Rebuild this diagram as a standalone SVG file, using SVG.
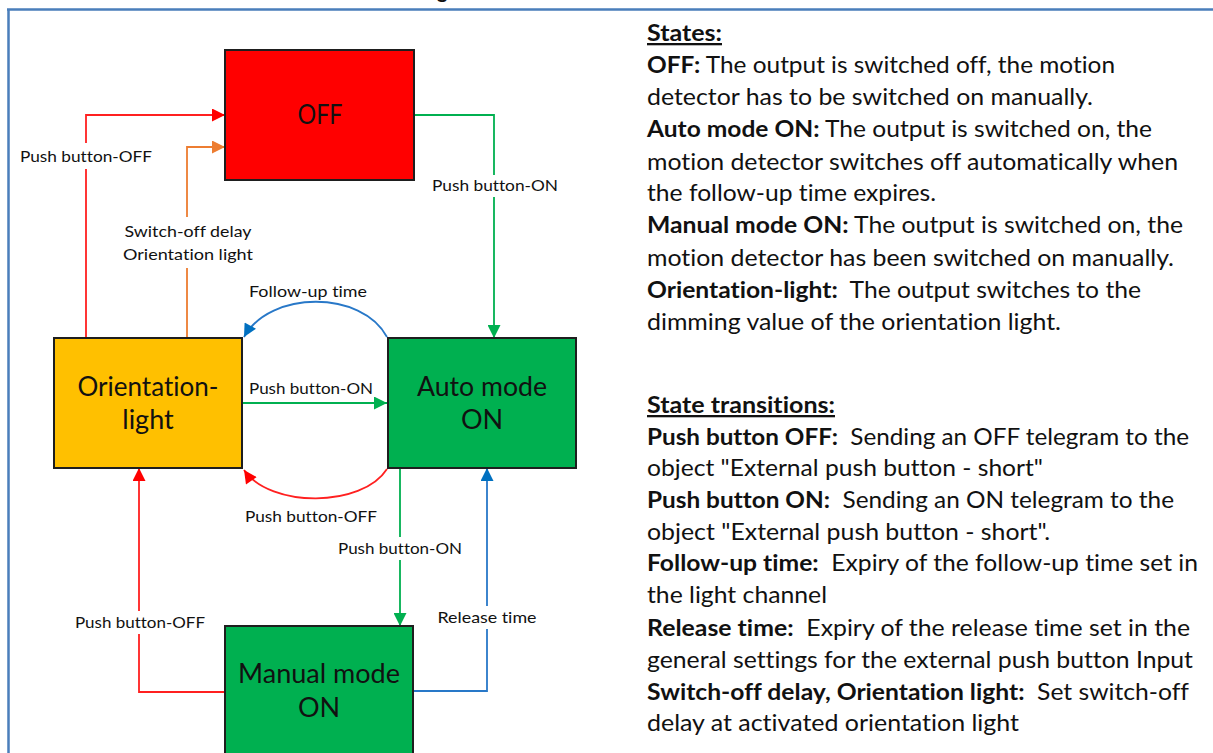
<svg xmlns="http://www.w3.org/2000/svg" width="1213" height="753" viewBox="0 0 1213 753">
<defs>
<style>
text{font-variant-ligatures:none}
.box{stroke:#1e1e1e;stroke-width:2}
.bt{font-family:Lato,"Open Sans","Liberation Sans",sans-serif;font-size:27px;fill:#111;text-anchor:middle}
.lb{font-family:Lato,"Open Sans","Liberation Sans",sans-serif;font-size:16px;fill:#111;text-anchor:middle}
.rt{font-family:Lato,"Open Sans","Liberation Sans",sans-serif;font-size:23px;fill:#111;white-space:pre}
.b{font-weight:700}
.c{fill:none;stroke-width:1.8}
.r{stroke:#FF2020}
.o{stroke:#ED7D31}
.g{stroke:#00B050}
.u{stroke:#2878C8}
</style>
<marker id="ar" viewBox="0 0 10 10" refX="10" refY="5" markerWidth="15" markerHeight="13" markerUnits="userSpaceOnUse" orient="auto"><path d="M0,0L10,5L0,10z" fill="#FF0000"/></marker>
<marker id="ao" viewBox="0 0 10 10" refX="10" refY="5" markerWidth="15" markerHeight="13" markerUnits="userSpaceOnUse" orient="auto"><path d="M0,0L10,5L0,10z" fill="#ED7D31"/></marker>
<marker id="ag" viewBox="0 0 10 10" refX="10" refY="5" markerWidth="15" markerHeight="13" markerUnits="userSpaceOnUse" orient="auto"><path d="M0,0L10,5L0,10z" fill="#00B050"/></marker>
<marker id="au" viewBox="0 0 10 10" refX="10" refY="5" markerWidth="15" markerHeight="13" markerUnits="userSpaceOnUse" orient="auto"><path d="M0,0L10,5L0,10z" fill="#0070C0"/></marker>
</defs>
<rect width="1213" height="753" fill="#fff"/>
<text x="437" y="-2" font-family="Lato,'Liberation Sans',sans-serif" font-size="20" font-weight="700" fill="#111">g</text>
<path d="M7,9.5H1213M8.5,9V753" fill="none" stroke="#4A7EBB" stroke-width="2.5"/>

<g id="connectors">
<path class="c r" d="M86,338V169M86,143V115H225" marker-end="url(#ar)"/>
<path class="c o" d="M187,338V268M187,217V147H225" marker-end="url(#ao)"/>
<path class="c g" d="M414,115H494V175M494,197V338" marker-end="url(#ag)"/>
<path class="c u" d="M387,337C362,290 270,290 244,337" marker-end="url(#au)"/>
<path class="c g" d="M242,403H387" marker-end="url(#ag)"/>
<path class="c r" d="M387,469C362,508 270,508 244,470" marker-end="url(#ar)"/>
<path class="c g" d="M400,468V537M400,560V626" marker-end="url(#ag)"/>
<path class="c u" d="M413,691H487V629M487,606V468" marker-end="url(#au)"/>
<path class="c r" d="M225,692H139V634M139,611V468" marker-end="url(#ar)"/>
<text class="lb" x="86" y="162" textLength="132" lengthAdjust="spacingAndGlyphs">Push button-OFF</text>
<text class="lb" x="188" y="237" textLength="127" lengthAdjust="spacingAndGlyphs">Switch-off delay</text>
<text class="lb" x="188" y="260" textLength="130" lengthAdjust="spacingAndGlyphs">Orientation light</text>
<text class="lb" x="495" y="191" textLength="126" lengthAdjust="spacingAndGlyphs">Push button-ON</text>
<text class="lb" x="308" y="297" textLength="118" lengthAdjust="spacingAndGlyphs">Follow-up time</text>
<text class="lb" x="311" y="394" textLength="124" lengthAdjust="spacingAndGlyphs">Push button-ON</text>
<text class="lb" x="311" y="522" textLength="132" lengthAdjust="spacingAndGlyphs">Push button-OFF</text>
<text class="lb" x="400" y="554" textLength="124" lengthAdjust="spacingAndGlyphs">Push button-ON</text>
<text class="lb" x="140" y="628" textLength="130" lengthAdjust="spacingAndGlyphs">Push button-OFF</text>
<text class="lb" x="487" y="623" textLength="99" lengthAdjust="spacingAndGlyphs">Release time</text>
</g>

<g id="off">
<rect class="box" x="225" y="50" width="189" height="130" fill="#FF0000"/>
<text class="bt" x="320" y="124" textLength="45" lengthAdjust="spacingAndGlyphs">OFF</text>
</g>
<g id="orientation">
<rect class="box" x="54" y="338" width="188" height="130" fill="#FFC000"/>
<text class="bt" x="148" y="396" textLength="141" lengthAdjust="spacingAndGlyphs">Orientation-</text>
<text class="bt" x="148" y="429">light</text>
</g>
<g id="auto">
<rect class="box" x="388" y="338" width="188" height="130" fill="#00B050"/>
<text class="bt" x="482" y="396" textLength="130" lengthAdjust="spacingAndGlyphs">Auto mode</text>
<text class="bt" x="482" y="429">ON</text>
</g>
<g id="manual">
<rect class="box" x="225" y="626" width="188" height="140" fill="#00B050"/>
<text class="bt" x="319" y="683" textLength="162" lengthAdjust="spacingAndGlyphs">Manual mode</text>
<text class="bt" x="319" y="717">ON</text>
</g>

<g id="legend">
<text class="rt b" x="647" y="41" text-decoration="underline" textLength="75" lengthAdjust="spacingAndGlyphs">States:</text>
<text class="rt" x="647" y="73" textLength="468" lengthAdjust="spacingAndGlyphs"><tspan class="b">OFF:</tspan> The output is switched off, the motion</text>
<text class="rt" x="647" y="105" textLength="446" lengthAdjust="spacingAndGlyphs">detector has to be switched on manually.</text>
<text class="rt" x="647" y="137" textLength="505" lengthAdjust="spacingAndGlyphs"><tspan class="b">Auto mode ON:</tspan> The output is switched on, the</text>
<text class="rt" x="647" y="170" textLength="531" lengthAdjust="spacingAndGlyphs">motion detector switches off automatically when</text>
<text class="rt" x="647" y="201" textLength="289" lengthAdjust="spacingAndGlyphs">the follow-up time expires.</text>
<text class="rt" x="647" y="233" textLength="536" lengthAdjust="spacingAndGlyphs"><tspan class="b">Manual mode ON:</tspan> The output is switched on, the</text>
<text class="rt" x="647" y="266" textLength="527" lengthAdjust="spacingAndGlyphs">motion detector has been switched on manually.</text>
<text class="rt" x="647" y="298" textLength="494" lengthAdjust="spacingAndGlyphs"><tspan class="b">Orientation-light:</tspan>  The output switches to the</text>
<text class="rt" x="647" y="330" textLength="414" lengthAdjust="spacingAndGlyphs">dimming value of the orientation light.</text>

<text class="rt b" x="647" y="413" text-decoration="underline" textLength="188" lengthAdjust="spacingAndGlyphs">State transitions:</text>
<text class="rt" x="647" y="445" textLength="542" lengthAdjust="spacingAndGlyphs"><tspan class="b">Push button OFF:</tspan>  Sending an OFF telegram to the</text>
<text class="rt" x="647" y="476" textLength="396" lengthAdjust="spacingAndGlyphs">object "External push button - short"</text>
<text class="rt" x="647" y="508" textLength="527" lengthAdjust="spacingAndGlyphs"><tspan class="b">Push button ON:</tspan>  Sending an ON telegram to the</text>
<text class="rt" x="647" y="540" textLength="403" lengthAdjust="spacingAndGlyphs">object "External push button - short".</text>
<text class="rt" x="647" y="571" textLength="551" lengthAdjust="spacingAndGlyphs"><tspan class="b">Follow-up time:</tspan>  Expiry of the follow-up time set in</text>
<text class="rt" x="647" y="603" textLength="180" lengthAdjust="spacingAndGlyphs">the light channel</text>
<text class="rt" x="647" y="636" textLength="543" lengthAdjust="spacingAndGlyphs"><tspan class="b">Release time:</tspan>  Expiry of the release time set in the</text>
<text class="rt" x="647" y="668" textLength="546" lengthAdjust="spacingAndGlyphs">general settings for the external push button Input</text>
<text class="rt" x="647" y="700" textLength="542" lengthAdjust="spacingAndGlyphs"><tspan class="b">Switch-off delay, Orientation light:</tspan>  Set switch-off</text>
<text class="rt" x="647" y="731" textLength="372" lengthAdjust="spacingAndGlyphs">delay at activated orientation light</text>
</g>
</svg>
